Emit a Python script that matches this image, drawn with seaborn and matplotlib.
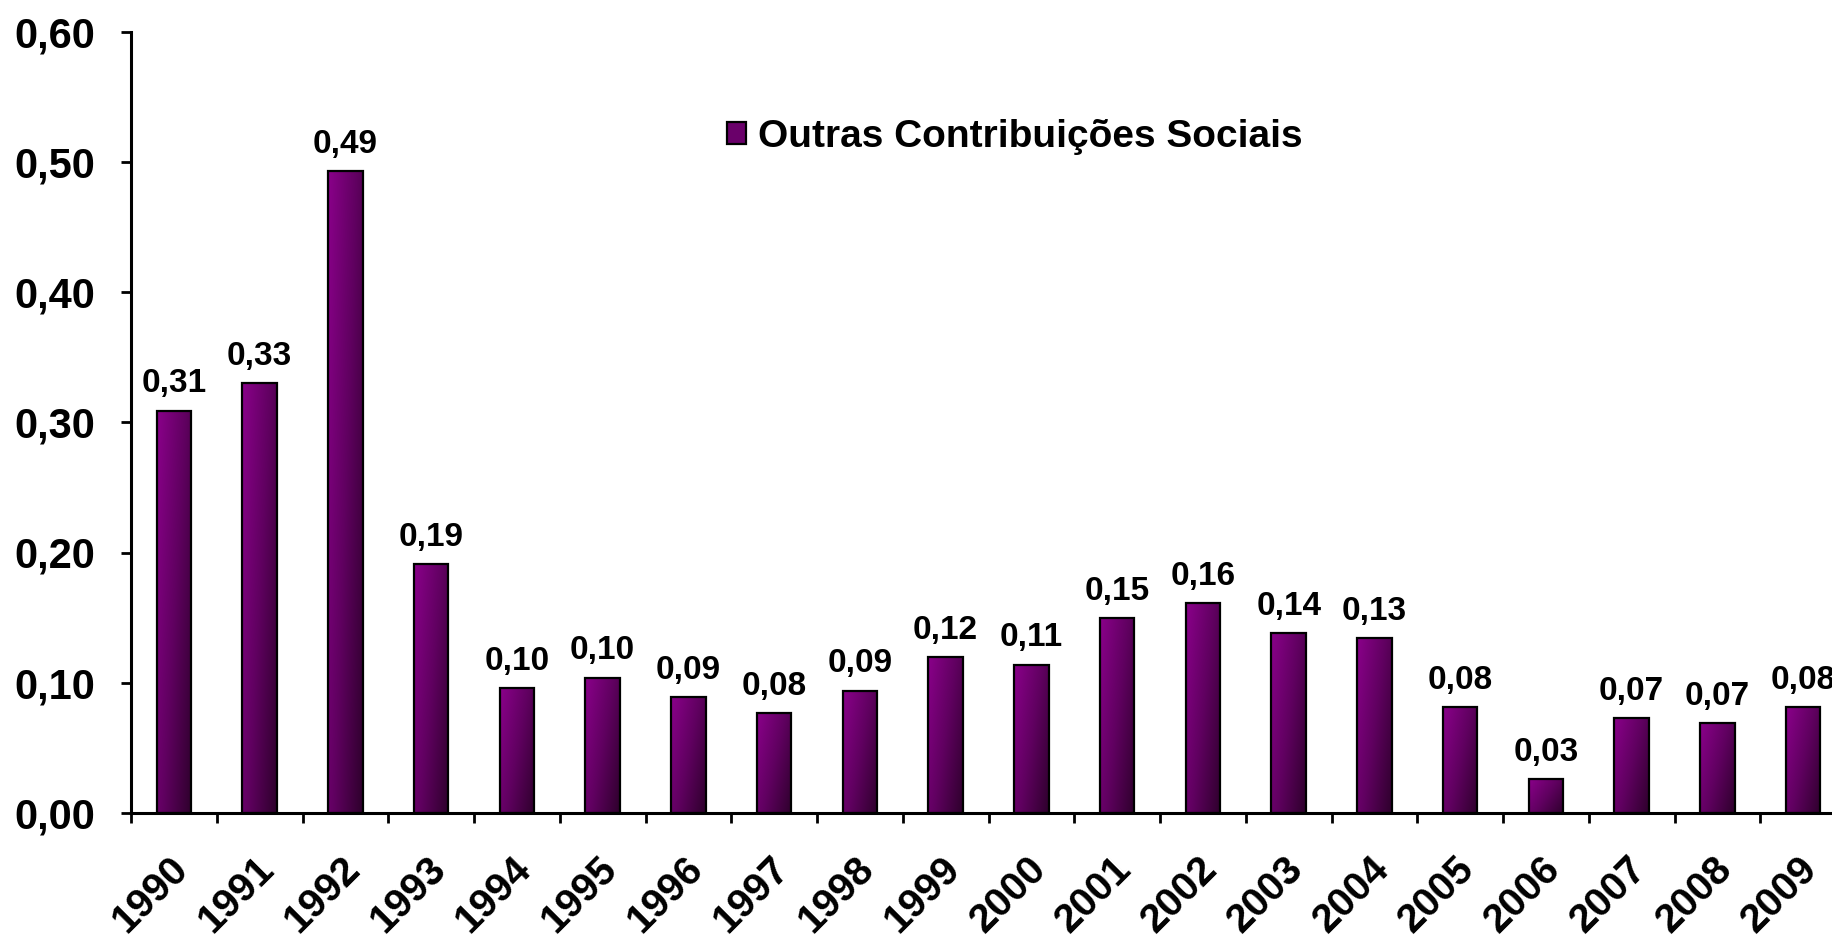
import numpy as np
import pandas as pd
import matplotlib
matplotlib.use('Agg')
import matplotlib.pyplot as plt
import matplotlib.transforms as mtransforms
import seaborn as sns
from matplotlib.colors import LinearSegmentedColormap
from matplotlib.patches import Patch
from matplotlib.ticker import FuncFormatter, FixedLocator

# Data
years = [str(y) for y in range(1990, 2010)]
values = [0.309, 0.330, 0.493, 0.191, 0.096, 0.104, 0.089, 0.077, 0.094, 0.120,
          0.114, 0.150, 0.161, 0.138, 0.134, 0.081, 0.026, 0.073, 0.069, 0.081]
series_name = 'Outras Contribuições Sociais'
y_ticks = [0.0, 0.1, 0.2, 0.3, 0.4, 0.5, 0.6]

sns.set_style('white')
plt.rcParams['font.family'] = ['Liberation Sans', 'DejaVu Sans']
plt.rcParams['font.weight'] = 'bold'
plt.rcParams['text.color'] = 'black'
plt.rcParams['xtick.color'] = 'black'
plt.rcParams['ytick.color'] = 'black'

W, H = 1832, 939
fig = plt.figure(figsize=(W / 100, H / 100), dpi=100)
ax = fig.add_axes([131 / W, 126 / H, 1715 / W, 781.5 / H])

df = pd.DataFrame({'ano': years, 'valor': values})
sns.barplot(data=df, x='ano', y='valor', ax=ax, width=0.4, color='#800080',
            saturation=1, edgecolor='black', linewidth=1.6, zorder=3)

# diagonal gradient fill: bright purple top-left -> dark bottom-right
cmap = LinearSegmentedColormap.from_list('roxo', ['#8a008a', '#600060', '#2e002c'])
n = 60
gx, gy = np.meshgrid(np.linspace(0, 1, n), np.linspace(0, 1, n))
grad = (gx * 0.6 + gy * 0.4)
for p in ax.patches:
    x0, y0, w, h = p.get_x(), p.get_y(), p.get_width(), p.get_height()
    ax.imshow(grad, cmap=cmap, extent=[x0, x0 + w, y0, y0 + h], aspect='auto',
              origin='upper', interpolation='bilinear', zorder=2)
    p.set_facecolor('none')

# value labels
for i, v in enumerate(values):
    ax.annotate(f'{v:.2f}'.replace('.', ','), (i, v), xytext=(0, 8),
                textcoords='offset points', ha='center', va='bottom',
                fontsize=24, fontweight='bold', color='black')

ax.set_xlim(-0.5, len(years) - 0.5)
ax.set_ylim(0, 0.6)
ax.set_xlabel('')
ax.set_ylabel('')

ax.yaxis.set_major_locator(FixedLocator(y_ticks))
ax.yaxis.set_major_formatter(FuncFormatter(lambda v, pos: f'{v:.2f}'.replace('.', ',')))
ax.tick_params(axis='y', direction='out', length=7, width=2, pad=19,
               labelsize=30, left=True)

ax.set_xticks(range(len(years)))
ax.set_xticklabels(years, rotation=45, ha='right', va='top',
                   rotation_mode='anchor', fontsize=29, fontweight='bold')
ax.xaxis.set_minor_locator(FixedLocator(np.arange(-0.5, len(years), 1.0)))
ax.tick_params(axis='x', which='major', length=0, pad=26)
ax.tick_params(axis='x', which='minor', direction='out', length=7, width=2,
               bottom=True)
shift = mtransforms.ScaledTranslation(-5 / 100, 0, fig.dpi_scale_trans)
for lbl in ax.get_xticklabels():
    lbl.set_transform(lbl.get_transform() + shift)

for side in ['top', 'right']:
    ax.spines[side].set_visible(False)
for side in ['left', 'bottom']:
    ax.spines[side].set_color('black')
    ax.spines[side].set_linewidth(2.2)
ax.grid(False)

handle = Patch(facecolor='#6a006a', edgecolor='black', linewidth=1.6, label=series_name)
fig.legend(handles=[handle], loc='center left', bbox_to_anchor=(727 / W, 1 - 137 / H),
           frameon=False, handlelength=0.5, handleheight=0.5,
           handletextpad=0.3, borderpad=0, borderaxespad=0,
           prop={'weight': 'bold', 'size': 28})

fig.savefig('out.png', dpi=100)
